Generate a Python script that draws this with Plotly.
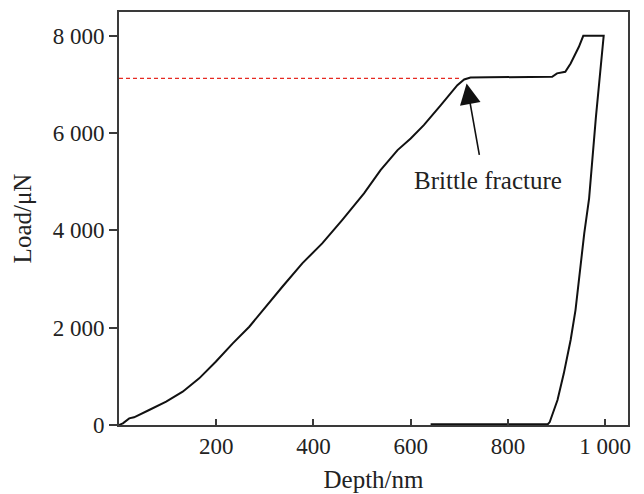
import plotly.graph_objects as go

# Nanoindentation load-depth record: loading, hold at peak, unloading
depth_nm = [0, 8, 21, 31, 62, 97, 131, 165, 199, 234, 268, 299, 336, 377, 418, 459,
            504, 538, 573, 600, 627, 662, 696, 710, 723, 760, 820, 891, 901, 918,
            929, 939, 946, 955, 997, 981, 967, 957, 949, 939, 929, 915, 902, 893, 886, 882, 641]
load_uN = [0, 35, 137, 158, 308, 479, 685, 959, 1301, 1679, 2020, 2398, 2842, 3323, 3734, 4213,
           4762, 5240, 5651, 5891, 6165, 6576, 6987, 7104, 7143, 7148, 7150, 7158, 7228, 7261,
           7432, 7638, 7775, 8000, 8000, 6330, 4660, 3939, 3253, 2363, 1747, 1062, 514, 230, 60, 15, 15]

# Load level at which the brittle fracture occurs
fracture_load = 7125
fracture_depth = 703
arrow_tip = (715, 7022)
label_pos = (759, 5020)

x_tickvals = [200, 400, 600, 800, 1000]
x_ticktext = ["200", "400", "600", "800", "1 000"]
y_tickvals = [0, 2000, 4000, 6000, 8000]
y_ticktext = ["0", "2 000", "4 000", "6 000", "8 000"]

font_family = "Liberation Serif, Times New Roman, serif"
axis_color = "#3a3a3a"
text_color = "#222222"

fig = go.Figure()

fig.add_trace(go.Scatter(
    x=[0, fracture_depth], y=[fracture_load, fracture_load],
    mode="lines", line=dict(color="#e62a22", width=1.4, dash="4px,3px"),
    hoverinfo="skip", showlegend=False,
))

fig.add_trace(go.Scatter(
    x=depth_nm, y=load_uN, mode="lines",
    line=dict(color="#111111", width=2),
    showlegend=False,
))

fig.add_annotation(
    x=arrow_tip[0], y=arrow_tip[1], xref="x", yref="y",
    ax=13, ay=73, axref="pixel", ayref="pixel",
    text="", showarrow=True, arrowhead=2, arrowsize=2.6, arrowwidth=1.6,
    arrowcolor="#111111",
)
fig.add_annotation(
    x=label_pos[0], y=label_pos[1], xref="x", yref="y",
    text="Brittle fracture", showarrow=False,
    font=dict(family=font_family, size=25, color=text_color),
)

fig.update_xaxes(
    range=[0, 1047], tickvals=x_tickvals, ticktext=x_ticktext,
    ticks="inside", ticklen=6, tickwidth=1.5, tickcolor=axis_color,
    showline=True, linecolor=axis_color, linewidth=1.6, mirror=True,
    showgrid=False, zeroline=False, automargin=False,
    tickfont=dict(family=font_family, size=23, color=text_color),
    title=dict(text="Depth/nm", font=dict(family=font_family, size=25, color=text_color), standoff=12),
)
fig.update_yaxes(
    range=[0, 8490], tickvals=y_tickvals, ticktext=y_ticktext,
    ticks="outside", ticklen=8, tickwidth=1.5, tickcolor=axis_color,
    showline=True, linecolor=axis_color, linewidth=1.6, mirror=True,
    showgrid=False, zeroline=False, automargin=False,
    tickfont=dict(family=font_family, size=23, color=text_color),
    title=dict(text="Load/μN", font=dict(family=font_family, size=25, color=text_color), standoff=14),
)

fig.update_layout(
    width=644, height=494,
    margin=dict(l=119, r=16, t=12, b=69),
    paper_bgcolor="white", plot_bgcolor="white",
)

fig.write_html("out.html")
